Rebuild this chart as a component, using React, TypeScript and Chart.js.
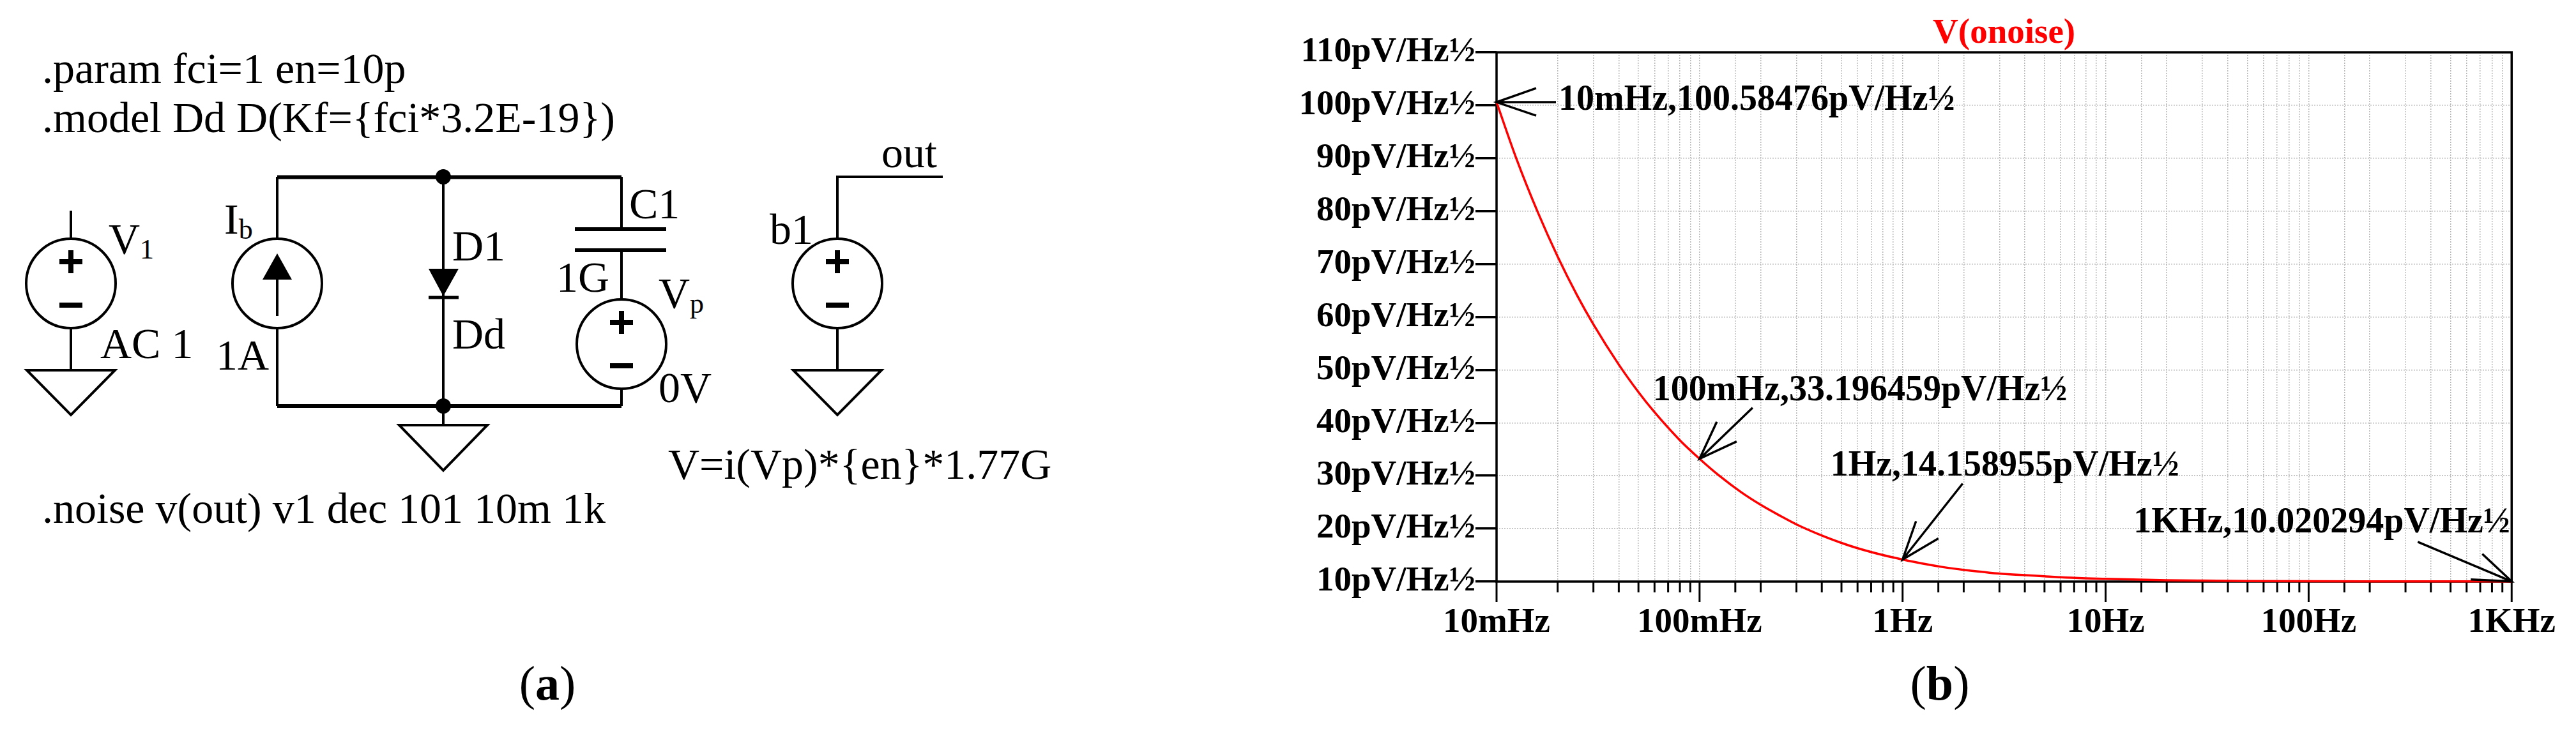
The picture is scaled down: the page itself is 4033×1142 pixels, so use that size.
import { useEffect, useRef } from "react";
import Chart from "chart.js/auto";

const FONT = "'Liberation Serif', serif";

const xTickLabels = ["10mHz", "100mHz", "1Hz", "10Hz", "100Hz", "1KHz"];

const frequency = [
  0.01, 0.0125, 0.016, 0.02, 0.025, 0.03, 0.04, 0.05, 0.06, 0.08, 0.1, 0.125, 0.16, 0.2, 0.25,
  0.3, 0.4, 0.5, 0.6, 0.8, 1, 1.25, 1.6, 2, 2.5, 3, 4, 5, 6, 8, 10, 20, 30, 50, 100, 200, 500, 1000,
];
const onoise = [
  100.58, 90.0, 79.7, 71.4, 64.0, 58.6, 51.0, 45.8, 42.0, 36.7, 33.196, 30.0, 26.9, 24.5, 22.4,
  20.8, 18.7, 17.3, 16.3, 15.0, 14.159, 13.4, 12.7, 12.2, 11.8, 11.5, 11.2, 11.0, 10.8, 10.6, 10.5,
  10.25, 10.17, 10.1, 10.05, 10.03, 10.02, 10.02,
];

const cursorFreq = [0.01, 0.1, 1, 1000];
const cursorValue = [100.58476, 33.196459, 14.158955, 10.020294];
const cursorText = [
  "10mHz,100.58476pV/Hz½",
  "100mHz,33.196459pV/Hz½",
  "1Hz,14.158955pV/Hz½",
  "1KHz,10.020294pV/Hz½",
];

// pixel offsets from each arrow tip: tail, two head barbs, text anchor
const arrowLayout = [
  { tail: [93, 0], a: [62, -22], b: [62, 21], text: [97, -3] },
  { tail: [83, -80], a: [27, -58], b: [58, -27], text: [-73, -106] },
  { tail: [94, -119], a: [21, -60], b: [56, -33], text: [-113, -146] },
  { tail: [-147, -62], a: [-46, -43], b: [-64, -3], text: [-592, -91] },
];

const plotDecor = {
  id: "plotDecor",
  beforeDatasetsDraw(chart: any) {
    const { ctx, chartArea, scales } = chart;
    ctx.save();
    ctx.strokeStyle = "#000";
    ctx.lineWidth = 3.5;
    ctx.strokeRect(
      chartArea.left,
      chartArea.top,
      chartArea.right - chartArea.left,
      chartArea.bottom - chartArea.top
    );
    // log axis ticks, long on decades and short in between
    ctx.lineWidth = 3;
    for (const tick of scales.x.ticks) {
      const px = scales.x.getPixelForValue(tick.value);
      ctx.beginPath();
      ctx.moveTo(px, chartArea.bottom);
      ctx.lineTo(px, chartArea.bottom + (tick.major ? 32 : 17));
      ctx.stroke();
    }
    ctx.restore();
  },
  afterDatasetsDraw(chart: any) {
    const { ctx, scales } = chart;
    ctx.save();
    ctx.strokeStyle = "#000";
    ctx.fillStyle = "#000";
    ctx.lineWidth = 3.5;
    ctx.font = `bold 56px ${FONT}`;
    ctx.textBaseline = "middle";
    cursorFreq.forEach((f, i) => {
      const tipX = scales.x.getPixelForValue(f);
      const tipY = scales.y.getPixelForValue(cursorValue[i]);
      const { tail, a, b, text } = arrowLayout[i];
      ctx.beginPath();
      ctx.moveTo(tipX + tail[0], tipY + tail[1]);
      ctx.lineTo(tipX, tipY);
      ctx.moveTo(tipX + a[0], tipY + a[1]);
      ctx.lineTo(tipX, tipY);
      ctx.lineTo(tipX + b[0], tipY + b[1]);
      ctx.stroke();
      ctx.fillText(cursorText[i], tipX + text[0], tipY + text[1]);
    });
    ctx.restore();
  },
};

function Source({ x, y }: { x: number; y: number }) {
  return (
    <g>
      <circle cx={x} cy={y} r={70} fill="#fff" stroke="#000" strokeWidth={4} />
      <path d={`M${x - 18} ${y - 34}h36M${x} ${y - 52}v36`} stroke="#000" strokeWidth={8} />
      <path d={`M${x - 18} ${y + 34}h36`} stroke="#000" strokeWidth={8} />
    </g>
  );
}

function Ground({ x, y, apex }: { x: number; y: number; apex: number }) {
  return <path d={`M${x - 69} ${y}H${x + 69}L${x} ${apex}Z`} fill="#fff" stroke="#000" strokeWidth={4} />;
}

function Schematic() {
  return (
    <svg
      width={4033}
      height={1142}
      style={{ position: "absolute", left: 0, top: 0 }}
      fontFamily={FONT}
      fontSize={68}
      fill="#000"
    >
      <text x={66} y={130}>.param fci=1 en=10p</text>
      <text x={66} y={207}>.model Dd D(Kf={"{"}fci*3.2E-19{"}"})</text>
      <text x={66} y={819}>.noise v(out) v1 dec 101 10m 1k</text>
      <text x={1046} y={750}>V=i(Vp)*{"{"}en{"}"}*1.77G</text>
      <text x={1380} y={262}>out</text>
      <text x={985} y={342}>C1</text>
      <text x={1205} y={382}>b1</text>
      <text x={708} y={408}>D1</text>
      <text x={708} y={546}>Dd</text>
      <text x={871} y={457}>1G</text>
      <text x={157} y={561}>AC 1</text>
      <text x={338} y={579}>1A</text>
      <text x={1031} y={630}>0V</text>
      <text x={170} y={397}>V<tspan fontSize={44} dy={8}>1</tspan></text>
      <text x={351} y={366}>I<tspan fontSize={44} dy={8}>b</tspan></text>
      <text x={1031} y={482}>V<tspan fontSize={44} dy={8}>p</tspan></text>

      <g stroke="#000" strokeWidth={4} fill="none">
        <path d="M434 277.5H973M434 636H973" strokeWidth={6} />
        <path d="M434 277V374M434 514V636" />
        <path d="M694 277V636" />
        <path d="M973 277V359M973 392V470M973 608V636" />
        <path d="M900 359H1043M900 392H1043" strokeWidth={6} />
        <path d="M111 330V374M111 514V580" />
        <path d="M1311 374V277H1476M1311 514V580" />
        <path d="M694 636V666" />
        <path d="M671 466H718" strokeWidth={5} />
      </g>
      <path d="M671 421H718L694 464Z" />
      <circle cx={694} cy={277} r={12} />
      <circle cx={694} cy={636} r={12} />
      <Source x={111} y={444} />
      <Source x={1311} y={444} />
      <Source x={973} y={539} />
      <circle cx={434} cy={444} r={70} fill="none" stroke="#000" strokeWidth={4} />
      <path d="M434 397L457 438H411Z" />
      <path d="M434 495V430" stroke="#000" strokeWidth={4} />
      <Ground x={111} y={580} apex={650} />
      <Ground x={1311} y={580} apex={650} />
      <Ground x={694} y={666} apex={737} />

      <text x={857} y={1096} fontSize={76} textAnchor="middle">
        (<tspan fontWeight="bold">a</tspan>)
      </text>
      <text x={3037} y={1096} fontSize={76} textAnchor="middle">
        (<tspan fontWeight="bold">b</tspan>)
      </text>
    </svg>
  );
}

export default function App() {
  const chartRef = useRef<HTMLCanvasElement | null>(null);

  useEffect(() => {
    document.body.style.margin = "0";
    if (!chartRef.current) return;

    const chart = new Chart(chartRef.current, {
      type: "line",
      data: {
        datasets: [
          {
            data: frequency.map((f, i) => ({ x: f, y: onoise[i] })),
            borderColor: "#ff0000",
            borderWidth: 3.5,
            pointRadius: 0,
            cubicInterpolationMode: "monotone",
            clip: false,
          },
        ],
      },
      options: {
        responsive: false,
        animation: false,
        layout: { padding: { right: 92 } },
        plugins: {
          legend: { display: false },
          tooltip: { enabled: false },
          title: {
            display: true,
            text: "V(onoise)",
            color: "#ff0000",
            fullSize: false,
            font: { family: FONT, size: 55, weight: "bold", lineHeight: 1 },
            padding: { top: 25, bottom: 2 },
          },
        },
        scales: {
          x: {
            type: "logarithmic",
            min: 0.01,
            max: 1000,
            afterFit: (scale: any) => {
              scale.height = 231;
            },
            border: { display: false, dash: [2, 2] },
            grid: {
              color: "#b8b8b8",
              lineWidth: 1.5,
              drawTicks: false,
            },
            ticks: {
              autoSkip: false,
              maxRotation: 0,
              padding: 32,
              color: "#000",
              font: { family: FONT, size: 55, weight: "bold" },
              callback: (v: any, i: number, ticks: any[]) =>
                ticks[i].major ? xTickLabels[Math.round(Math.log10(v)) + 2] : "",
            },
          },
          y: {
            min: 10,
            max: 110,
            afterFit: (scale: any) => {
              scale.width = 343;
            },
            border: { display: false, dash: [2, 2] },
            grid: {
              color: "#b8b8b8",
              lineWidth: 1.5,
              tickLength: 33,
              tickColor: "#000",
              tickWidth: 3.5,
            },
            ticks: {
              stepSize: 10,
              padding: 0,
              color: "#000",
              font: { family: FONT, size: 55, weight: "bold" },
              callback: (v: any) => `${v}pV/Hz½`,
            },
          },
        },
      },
      plugins: [plotDecor],
    } as any);

    return () => chart.destroy();
  }, []);

  return (
    <div style={{ position: "relative", width: 4033, height: 1142, overflow: "hidden", background: "#fff" }}>
      <Schematic />
      <canvas
        ref={chartRef}
        width={2033}
        height={1142}
        style={{ position: "absolute", left: 2000, top: 0 }}
      />
    </div>
  );
}
